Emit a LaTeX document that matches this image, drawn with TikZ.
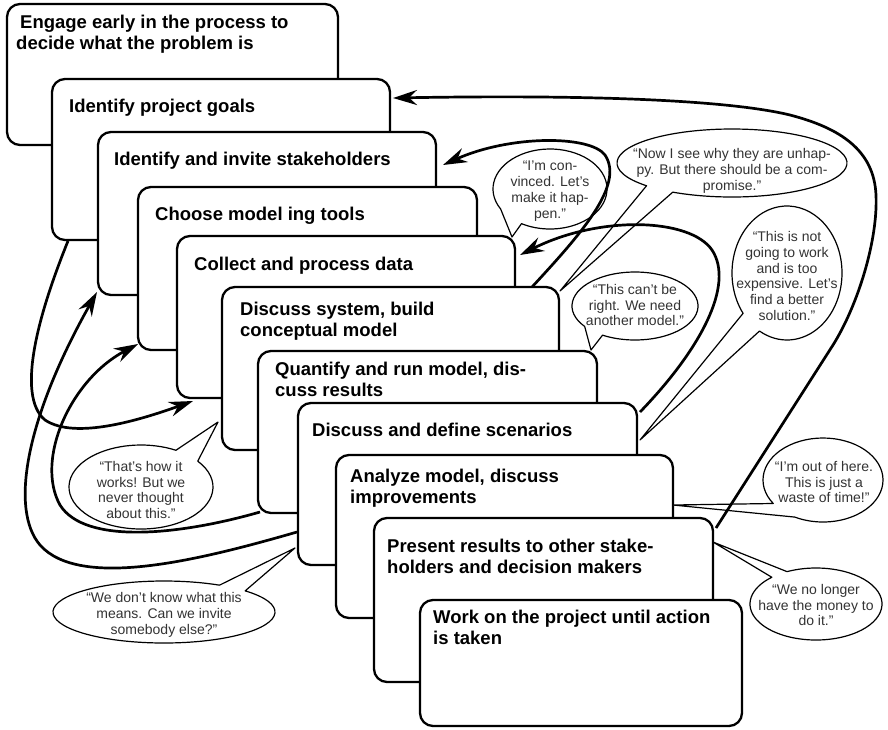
\documentclass[tikz,border=0pt]{standalone}
\usepackage{fontspec}
\setmainfont{Liberation Sans}
\usetikzlibrary{arrows.meta,calc}
\newcommand\speechbubble[6]{%
  \draw[bubbleline] ($(#1)+(#5:#2 and #3)$) arc[start angle=#5, end angle=#4+360, x radius=#2, y radius=#3] -- (#6) -- cycle;}
\begin{document}
\begin{tikzpicture}[x=1pt, y=-1pt,
  procbox/.style={draw, line width=2.3pt, rounded corners=13pt, fill=white, anchor=north west, inner sep=0pt, outer sep=0pt},
  boxtext/.style={anchor=north west, inner sep=0pt, align=left, font=\fontsize{18.5}{21}\selectfont\bfseries},
  bubtext/.style={inner sep=0pt, align=center, text=black!80, font=\fontsize{14}{15.8}\selectfont},
  bubbleline/.style={draw=black, fill=white, line width=1.2pt, line join=round},
  flow/.style={draw, line width=2.7pt, -{Stealth[length=24pt, width=15pt, inset=8pt]}},
]
\useasboundingbox (0,0) rectangle (888,729);

% process boxes
\node[procbox, minimum width=331pt, minimum height=141pt] (b1) at (7,4) {};
\node[boxtext] (t1) at (16,15) {\hspace*{4pt}Engage early in the process to\\decide what the problem is};
\node[procbox, minimum width=338pt, minimum height=161pt] (b2) at (52,79) {};
\node[boxtext] (t2) at (69,99) {Identify project goals};
\node[procbox, minimum width=338pt, minimum height=163pt] (b3) at (98,132) {};
\node[boxtext] (t3) at (114,152) {Identify and invite stakeholders};
\node[procbox, minimum width=339pt, minimum height=163pt] (b4) at (138,187) {};
\node[boxtext] (t4) at (155,207) {Choose model ing tools};
\node[procbox, minimum width=338pt, minimum height=162pt] (b5) at (177,236) {};
\node[boxtext] (t5) at (194,257) {Collect and process data};
\node[procbox, minimum width=337pt, minimum height=163pt] (b6) at (222,287) {};
\node[boxtext] (t6) at (240,302) {Discuss system, build\\conceptual model};
\node[procbox, minimum width=339pt, minimum height=162pt] (b7) at (258,351) {};
\node[boxtext] (t7) at (275,362) {Quantify and run model, dis-\\cuss results};
\node[procbox, minimum width=339pt, minimum height=162pt] (b8) at (298,403) {};
\node[boxtext] (t8) at (312,423) {Discuss and define scenarios};
\node[procbox, minimum width=337pt, minimum height=163pt] (b9) at (336,455) {};
\node[boxtext] (t9) at (350,469) {Analyze model, discuss\\improvements};
\node[procbox, minimum width=339pt, minimum height=164pt] (b10) at (374,518) {};
\node[boxtext] (t10) at (387,539) {Present results to other stake-\\holders and decision makers};
\node[procbox, minimum width=322pt, minimum height=126pt] (b11) at (420,600) {};
\node[boxtext] (t11) at (433,610) {Work on the project until action\\is taken};

% bubble tips
\coordinate (tq1) at ($(b5.north east)+(-3,1)$);
\coordinate (tq2) at ($(b6.north east)+(1,4)$);
\coordinate (tq3) at ($(b7.north east)+(-6,-1)$);
\coordinate (tq4) at ($(b8.north east)+(3,37)$);
\coordinate (tq5) at ($(b9.north east)+(0,50)$);
\coordinate (tq6) at ($(b10.north east)+(0,24)$);
\coordinate (tq7) at ($(b6.north west)+(-4,135)$);
\coordinate (tq8) at ($(b8.north west)+(-3,145)$);

% bubble centres
\coordinate (e1) at (550,189);
\coordinate (e2) at (732,163);
\coordinate (e3) at (635,306);
\coordinate (e4) at (787,273);
\coordinate (e5) at (823,480);
\coordinate (e6) at (816,604);
\coordinate (e7) at (141,487);
\coordinate (e8) at (164,612);

\speechbubble{e1}{57}{40}{120}{150}{tq1}
\speechbubble{e2}{115}{34}{121}{138}{tq2}
\speechbubble{e3}{63}{34}{121}{143}{tq3}
\speechbubble{e4}{55}{67}{120}{143}{tq4}
\speechbubble{e5}{60}{42}{118}{146}{tq5}
\speechbubble{e6}{66}{36}{228}{244}{tq6}
\speechbubble{e7}{72}{42}{299}{322}{tq7}
\speechbubble{e8}{111}{31}{300}{317}{tq8}

\node[bubtext] (q1) at (550,191) {“I’m con-\\vinced. Let’s\\make it hap-\\pen.”};
\node[bubtext] (q2) at (732,171) {“Now I see why they are unhap-\\py. But there should be a com-\\promise.”};
\node[bubtext] (q3) at (635,305) {“This can’t be\\right. We need\\another model.”};
\node[bubtext] (q4) at (787,276) {“This is not\\going to work\\and is too\\expensive. Let’s\\find a better\\solution.”};
\node[bubtext] (q5) at (824,482) {“I’m out of here.\\This is just a\\waste of time!”};
\node[bubtext] (q6) at (816,605) {“We no longer\\have the money to\\do it.”};
\node[bubtext] (q7) at (141,490) {“That’s how it\\works! But we\\never thought\\about this.”};
\node[bubtext] (q8) at (164,615) {“We don’t know what this\\means. Can we invite\\somebody else?”};

% feedback arrows
\draw[flow] ($(b10.north east)+(3,10)$) -- (833,345)
  .. controls (858,305) and (878,240) .. (876,195)
  .. controls (874,150) and (840,128) .. (790,115)
  .. controls (720,98) and (560,95) .. ($(b2.north east)+(3,19)$);
\draw[flow] ($(b6.north east)+(-27,0)$)
  .. controls (580,235) and (625,185) .. (605,155)
  .. controls (590,135) and (510,135) .. ($(b3.north east)+(7,33)$);
\draw[flow] ($(b8.north east)+(3,9)$)
  .. controls (700,350) and (735,285) .. (712,250)
  .. controls (690,218) and (600,215) .. ($(b5.north east)+(5,19)$);
\draw[flow] ($(b2.south west)+(16,1)$)
  .. controls (40,310) and (15,395) .. (45,420)
  .. controls (75,440) and (140,420) .. ($(b5.south west)+(16,3)$);
\draw[flow] ($(b8.south west)+(-1,-33)$)
  .. controls (200,560) and (80,590) .. (40,545)
  .. controls (10,510) and (25,420) .. ($(b3.south west)+(-1,-3)$);
\draw[flow] ($(b7.south west)+(2,-1)$)
  .. controls (180,535) and (85,545) .. (60,505)
  .. controls (35,460) and (70,380) .. ($(b4.south west)+(0,-6)$);
\end{tikzpicture}
\end{document}
